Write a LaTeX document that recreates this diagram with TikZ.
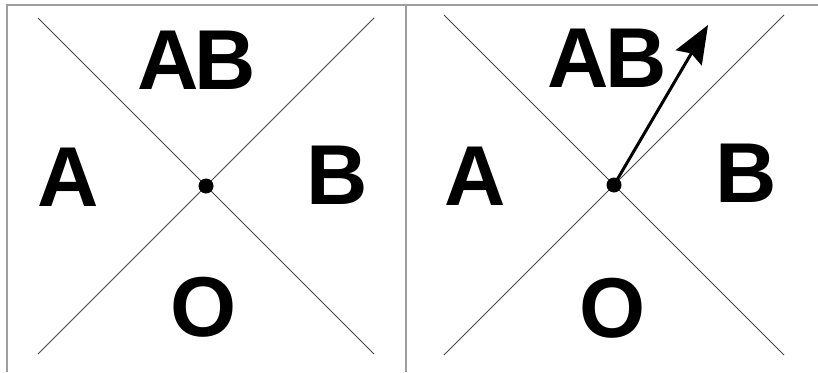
\documentclass[tikz,border=0pt]{standalone}
\usepackage{fontspec}
\setmainfont{Liberation Sans}
\usetikzlibrary{arrows.meta}
\begin{document}
\begin{tikzpicture}[x=1pt,y=-1pt,
  frame/.style={draw=black!38,line width=1.6pt},
  diag/.style={draw=black!72,line width=0.9pt},
  lbl/.style={inner sep=0pt,font=\fontsize{85}{85}\selectfont\bfseries},
  dot/.style={circle,fill=black,inner sep=0pt,minimum size=15pt},
  vec/.style={line width=3pt,-{Stealth[length=38pt,width=30pt,inset=5pt]}}]
\useasboundingbox (0,0) rectangle (818,372);
% frame
\draw[frame] (7,372) -- (7,5) -- (818,5);
\draw[frame] (406,5) -- (406,372);
% left panel
\coordinate (l1) at (38,18);
\coordinate (l2) at (374,354);
\coordinate (l3) at (38,354);
\coordinate (l4) at (374,18);
\draw[diag] (l1) -- (l2);
\draw[diag] (l3) -- (l4);
\node[dot] (ldot) at (206,186) {};
\node[lbl] (lAB) at (197,60) {A\kern-4pt B};
\node[lbl] (lA) at (68,177) {A};
\node[lbl] (lB) at (337,175) {B};
\node[lbl] (lO) at (204,307) {O};
% right panel
\coordinate (r1) at (444,15);
\coordinate (r2) at (784,355);
\coordinate (r3) at (444,355);
\coordinate (r4) at (784,15);
\draw[diag] (r1) -- (r2);
\draw[diag] (r3) -- (r4);
\node[dot] (rdot) at (614,185) {};
\node[lbl] (rAB) at (607,58) {A\kern-4pt B};
\node[lbl] (rA) at (475,176) {A};
\node[lbl] (rB) at (746,173) {B};
\node[lbl] (rO) at (613,308) {O};
\coordinate (tip) at (708,25);
\draw[vec] (rdot.center) -- (tip);
\end{tikzpicture}
\end{document}
